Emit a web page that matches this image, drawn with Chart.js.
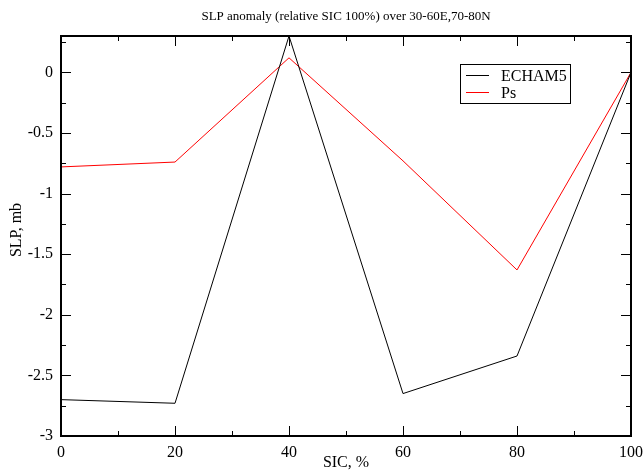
<!DOCTYPE html>
<html><head><meta charset="utf-8">
<script src="https://cdn.jsdelivr.net/npm/chart.js@4/dist/chart.umd.min.js"></script>
<style>html,body{margin:0;padding:0;background:#fff}</style>
</head><body>
<canvas id="c" width="644" height="472"></canvas>
<script>
const sic = [0, 20, 40, 60, 80, 100];
const echam5 = [-2.70, -2.73, 0.30, -2.65, -2.34, 0];
const ps = [-0.78, -0.74, 0.12, -0.73, -1.63, 0];
const seriesNames = ['ECHAM5', 'Ps'];
const xMajor = [0, 20, 40, 60, 80, 100];
const xMinor = [10, 30, 50, 70, 90];
const yMajor = [-3, -2.5, -2, -1.5, -1, -0.5, 0];
const yMinor = [-2.75, -2.25, -1.75, -1.25, -0.75, -0.25, 0.25];
const titleText = 'SLP anomaly (relative SIC 100%) over 30-60E,70-80N';
const xTitle = 'SIC, %';
const yTitle = 'SLP, mb';
const FONT = '"Liberation Serif","DejaVu Serif","Times New Roman",serif';

const toPts = (xs, ys) => xs.map((x, i) => ({x: x, y: ys[i]}));

const decor = {
  id: 'decor',
  afterDatasetsDraw(chart) {
    const ctx = chart.ctx, a = chart.chartArea;
    const xs = chart.scales.x, ys = chart.scales.y;
    ctx.save();
    ctx.strokeStyle = '#000';
    ctx.lineWidth = 1;
    ctx.beginPath();
    const vt = (v, len) => {
      const px = Math.round(xs.getPixelForValue(v)) + 0.5;
      ctx.moveTo(px, a.bottom); ctx.lineTo(px, a.bottom - len);
      ctx.moveTo(px, a.top); ctx.lineTo(px, a.top + len);
    };
    const ht = (v, len) => {
      const py = Math.round(ys.getPixelForValue(v)) + 0.5;
      ctx.moveTo(a.left, py); ctx.lineTo(a.left + len, py);
      ctx.moveTo(a.right, py); ctx.lineTo(a.right - len, py);
    };
    xMajor.forEach(v => vt(v, 10));
    xMinor.forEach(v => vt(v, 5));
    yMajor.forEach(v => ht(v, 10));
    yMinor.forEach(v => ht(v, 5));
    ctx.stroke();
    ctx.lineWidth = 2;
    ctx.strokeRect(a.left, a.top, a.right - a.left, a.bottom - a.top);
    ctx.fillStyle = '#000';
    ctx.textAlign = 'center';
    ctx.textBaseline = 'middle';
    ctx.font = '13px ' + FONT;
    ctx.fillText(titleText, (a.left + a.right) / 2, 17);
    ctx.font = '16px ' + FONT;
    ctx.fillText(xTitle, (a.left + a.right) / 2, 463);
    ctx.save();
    ctx.translate(17, (a.top + a.bottom) / 2 - 6);
    ctx.rotate(-Math.PI / 2);
    ctx.fillText(yTitle, 0, 0);
    ctx.restore();
    const bx = 460, by = 64, bw = 110, bh = 39;
    ctx.fillStyle = '#fff';
    ctx.fillRect(bx, by, bw, bh);
    ctx.lineWidth = 1;
    ctx.strokeStyle = '#000';
    ctx.strokeRect(bx + 0.5, by + 0.5, bw, bh);
    ctx.font = '16px ' + FONT;
    ctx.textAlign = 'left';
    chart.data.datasets.forEach((ds, i) => {
      const yy = by + 11.5 + i * 17;
      ctx.strokeStyle = ds.borderColor;
      ctx.beginPath();
      ctx.moveTo(bx + 6, yy); ctx.lineTo(bx + 29, yy);
      ctx.stroke();
      ctx.fillStyle = '#000';
      ctx.fillText(ds.label, bx + 41, yy + 1);
    });
    ctx.restore();
  }
};

new Chart(document.getElementById('c'), {
  type: 'line',
  data: {
    datasets: [
      {label: seriesNames[0], data: toPts(sic, echam5), borderColor: '#000', borderWidth: 1, pointRadius: 0, tension: 0, fill: false},
      {label: seriesNames[1], data: toPts(sic, ps), borderColor: '#ff0000', borderWidth: 1, pointRadius: 0, tension: 0, fill: false}
    ]
  },
  options: {
    responsive: false,
    devicePixelRatio: 1,
    animation: false,
    layout: {padding: {top: 36, right: 13, left: 0, bottom: 0}},
    plugins: {legend: {display: false}, title: {display: false}, tooltip: {enabled: false}},
    scales: {
      x: {
        type: 'linear', min: 0, max: 100,
        grid: {display: false, drawTicks: false},
        border: {display: false},
        afterFit: s => { s.height = 36; s.paddingLeft = 0; s.paddingRight = 0; },
        afterBuildTicks: s => { s.ticks = xMajor.map(v => ({value: v})); },
        ticks: {padding: 7, color: '#000', font: {family: FONT, size: 16}, maxRotation: 0, callback: v => String(v)}
      },
      y: {
        type: 'linear', min: -3, max: 0.3,
        grid: {display: false, drawTicks: false},
        border: {display: false},
        afterFit: s => { s.width = 61; s.paddingTop = 0; s.paddingBottom = 0; },
        afterBuildTicks: s => { s.ticks = yMajor.map(v => ({value: v})); },
        ticks: {padding: 8, color: '#000', font: {family: FONT, size: 16}, callback: v => String(+v.toFixed(2))}
      }
    }
  },
  plugins: [decor]
});
</script>
</body></html>
